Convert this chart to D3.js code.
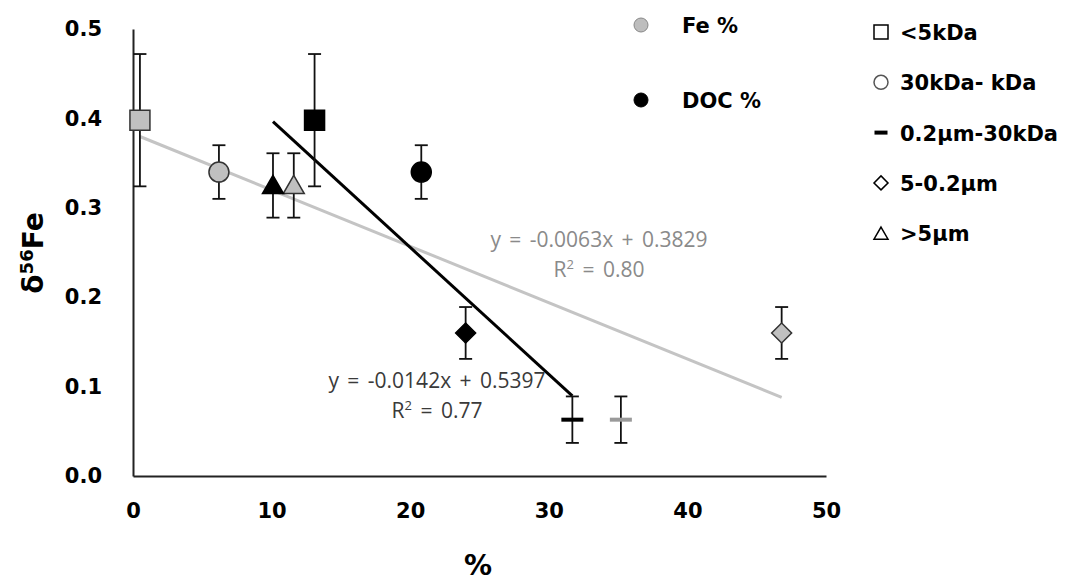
<!DOCTYPE html>
<html>
<head>
<meta charset="utf-8">
<script src="https://cdn.jsdelivr.net/npm/d3@7"></script>
<style>
    body { margin: 0; background: #fff; }
    .bold { font-family: "DejaVu Sans", Verdana, sans-serif; font-weight: bold; fill: #000; }
    .eq { font-family: "Open Sans", sans-serif; }
</style>
</head>
<body>
<svg id="chart" width="1080" height="581"></svg>
<script>
// size fractions, in legend order
let sizeClasses = ["<5kDa", "30kDa- kDa", "0.2\u00b5m-30kDa", "5-0.2\u00b5m", ">5\u00b5m"];
let shapes = ["square", "circle", "dash", "diamond", "triangle"];
let d56Fe = [0.398, 0.340, 0.063, 0.160, 0.325];
let d56FeErr = [0.074, 0.030, 0.026, 0.029, 0.036];
let fePct = [0.5, 6.2, 35.2, 46.8, 11.6];
let docPct = [13.1, 20.8, 31.7, 24.0, 10.1];
// linear fits [slope, intercept, r2]
let feFit = [-0.0063, 0.3829, "0.80"];
let docFit = [-0.0142, 0.5397, "0.77"];
let xTicks = [0, 10, 20, 30, 40, 50];
let yTicks = [0, 0.1, 0.2, 0.3, 0.4, 0.5];

let svg = d3.select("#chart");

let xScale = d3.scaleLinear().domain([0, 50]).range([133, 826]);
let yScale = d3.scaleLinear().domain([0, 0.5]).range([476, 29]);

let xAxis = d3.axisBottom(xScale).tickValues(xTicks).tickSize(0).tickPadding(27).tickFormat(d3.format("d"));
let yAxis = d3.axisLeft(yScale).tickValues(yTicks).tickSize(0).tickPadding(31).tickFormat(d3.format(".1f"));

let gx = svg.append("g").attr("transform", "translate(0,476)").call(xAxis);
let gy = svg.append("g").attr("transform", "translate(133,0)").call(yAxis);
[gx, gy].forEach(function (g) {
    g.select(".domain").attr("stroke", "#222").attr("stroke-width", 2);
    g.selectAll("text").attr("class", "bold").style("font-size", "21px");
});

// axis titles
svg.append("text")
    .attr("class", "bold")
    .attr("x", 478)
    .attr("y", 575)
    .attr("text-anchor", "middle")
    .style("font-size", "28px")
    .text("%");

let ylab = svg.append("text")
    .attr("class", "bold")
    .attr("transform", "translate(43,253) rotate(-90)")
    .attr("text-anchor", "middle")
    .style("font-size", "28px");
ylab.append("tspan").text("\u03b4");
ylab.append("tspan").attr("dy", -10).style("font-size", "18px").text("56");
ylab.append("tspan").attr("dy", 10).text("Fe");

// trend lines, drawn over the x range of each series
function fitLine(xs, fit, color, width) {
    let ext = d3.extent(xs);
    let pts = ext.map(function (x) { return [x, fit[0] * x + fit[1]]; });
    let line = d3.line()
        .x(function (d) { return xScale(d[0]); })
        .y(function (d) { return yScale(d[1]); });
    svg.append("path")
        .attr("d", line(pts))
        .attr("fill", "none")
        .attr("stroke", color)
        .attr("stroke-width", width);
}
fitLine(fePct, feFit, "#c4c4c4", 3);
fitLine(docPct, docFit, "#000", 3);

// marker drawing
function drawMarker(g, shape, size, fill, stroke) {
    if (shape === "dash") {
        g.append("rect")
            .attr("x", -size / 2).attr("y", -2)
            .attr("width", size).attr("height", 4)
            .attr("fill", fill === "#fff" ? "#000" : fill);
        return;
    }
    let path;
    if (shape === "square") {
        path = d3.symbol(d3.symbolSquare, size * size)();
    } else if (shape === "circle") {
        path = d3.symbol(d3.symbolCircle, Math.PI * size * size / 4)();
    } else if (shape === "triangle") {
        path = d3.symbol(d3.symbolTriangle, Math.sqrt(3) / 4 * size * size)();
    } else {
        path = d3.symbol(d3.symbolSquare, size * size / 2)();
    }
    let p = g.append("path")
        .attr("d", path)
        .attr("fill", fill)
        .attr("stroke", stroke)
        .attr("stroke-width", 1.5);
    if (shape === "diamond") p.attr("transform", "rotate(45)");
    if (shape === "triangle") p.attr("transform", "translate(0,2)");
}

function drawSeries(xs, fill, stroke, dashColor) {
    let g = svg.append("g");
    xs.forEach(function (x, i) {
        let cx = xScale(x);
        let y0 = yScale(d56Fe[i] - d56FeErr[i]);
        let y1 = yScale(d56Fe[i] + d56FeErr[i]);
        let eb = g.append("g").attr("stroke", "#111").attr("stroke-width", 1.8);
        eb.append("line").attr("x1", cx).attr("x2", cx).attr("y1", y0).attr("y2", y1);
        eb.append("line").attr("x1", cx - 6.5).attr("x2", cx + 6.5).attr("y1", y0).attr("y2", y0);
        eb.append("line").attr("x1", cx - 6.5).attr("x2", cx + 6.5).attr("y1", y1).attr("y2", y1);
        let m = g.append("g").attr("transform", "translate(" + cx + "," + yScale(d56Fe[i]) + ")");
        let sz = shapes[i] === "triangle" ? 21 : (shapes[i] === "dash" ? 22 : 20);
        drawMarker(m, shapes[i], sz, shapes[i] === "dash" ? dashColor : fill, stroke);
    });
}
drawSeries(fePct, "#c0c0c0", "#333", "#9a9a9a");
drawSeries(docPct, "#000", "#000", "#000");

// fit equations
function fitText(x, y, fit, color) {
    svg.append("text")
        .attr("class", "eq")
        .attr("x", x).attr("y", y)
        .attr("text-anchor", "middle")
        .attr("fill", color)
        .style("font-size", "21px")
        .style("word-spacing", "3px")
        .text("y = " + fit[0] + "x + " + fit[1]);
    let r = svg.append("text")
        .attr("class", "eq")
        .attr("x", x).attr("y", y + 30)
        .attr("text-anchor", "middle")
        .attr("fill", color)
        .style("font-size", "21px")
        .style("word-spacing", "3px");
    r.append("tspan").text("R");
    r.append("tspan").attr("dy", -8).style("font-size", "13px").text("2");
    r.append("tspan").attr("dy", 8).text(" = " + fit[2]);
}
fitText(599, 247, feFit, "#8a8a8a");
fitText(437, 388, docFit, "#3a3a3a");

// legend: series
let seriesNames = ["Fe %", "DOC %"];
let seriesFill = ["#bdbdbd", "#000"];
seriesNames.forEach(function (name, i) {
    let y = 25 + i * 75;
    svg.append("circle").attr("cx", 641).attr("cy", y).attr("r", 7)
        .attr("fill", seriesFill[i]).attr("stroke", i === 0 ? "#888" : "#000").attr("stroke-width", 1);
    svg.append("text").attr("class", "bold").attr("x", 682).attr("y", y + 8)
        .style("font-size", "21px").text(name);
});

// legend: size fractions
sizeClasses.forEach(function (name, i) {
    let y = 32 + i * 50.3;
    let g = svg.append("g").attr("transform", "translate(881," + y + ")");
    drawMarker(g, shapes[i], shapes[i] === "dash" ? 13 : 14, "#fff", shapes[i] === "circle" ? "#555" : "#000");
    svg.append("text").attr("class", "bold").attr("x", 900).attr("y", y + 8)
        .style("font-size", "21px").text(name);
});
</script>
</body>
</html>
